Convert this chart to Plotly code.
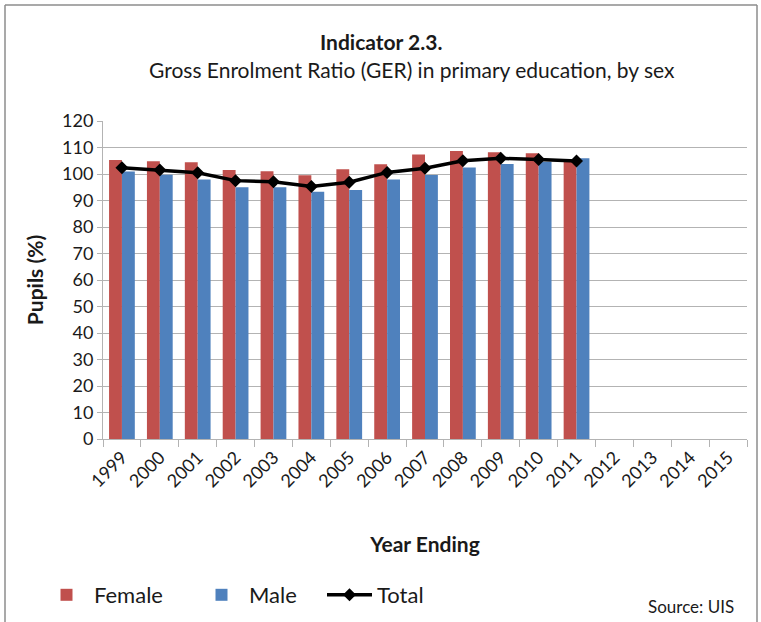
import plotly.graph_objects as go

years = [str(y) for y in range(1999, 2016)]
female = [105.3, 104.8, 104.4, 101.5, 101.0, 99.5, 101.8, 103.7, 107.4, 108.7, 108.2, 107.8, 105.3]
male = [100.9, 99.7, 97.9, 95.0, 95.0, 93.3, 94.0, 97.9, 99.6, 102.5, 103.8, 104.6, 105.9]
total = [102.4, 101.5, 100.5, 97.5, 97.1, 95.3, 96.9, 100.6, 102.2, 105.0, 105.9, 105.5, 104.9]

FONT = "Lato"
GRID = "#B3B3B3"
FIG_W, FIG_H = 761, 622

# plot area in pixels: x 103..747, y 121..439
PX_L, PX_R, PX_T, PX_B = 103, 747, 121, 439
W, H = PX_R - PX_L, PX_B - PX_T


def px(x):
    return (x - PX_L) / W


def py(y):
    return (PX_B - y) / H


fig = go.Figure()
fig.add_trace(go.Bar(x=years[:len(female)], y=female, name="Female", legend="legend",
                     marker=dict(color="#C0504D", line=dict(width=0))))
fig.add_trace(go.Bar(x=years[:len(male)], y=male, name="Male", legend="legend2",
                     marker=dict(color="#4F81BD", line=dict(width=0))))
fig.add_trace(go.Scatter(x=years[:len(total)], y=total, name="Total", mode="lines+markers",
                         legend="legend3",
                         line=dict(color="black", width=3.5),
                         marker=dict(symbol="diamond", size=10, color="black")))


def legend_at(x_px):
    return dict(x=px(x_px), y=py(595), xanchor="left", yanchor="middle",
                bgcolor="rgba(0,0,0,0)", font=dict(family=FONT, size=22), itemwidth=45)


fig.update_layout(
    width=FIG_W, height=FIG_H,
    margin=dict(l=PX_L, r=FIG_W - PX_R, t=PX_T, b=FIG_H - PX_B, autoexpand=False),
    paper_bgcolor="white", plot_bgcolor="white",
    font=dict(family=FONT, color="#1a1a1a", size=17),
    barmode="group", bargap=0.32, bargroupgap=0,
    showlegend=True,
    legend=legend_at(39),
    legend2=legend_at(194),
    legend3=legend_at(322),
    xaxis=dict(type="category", categoryorder="array", categoryarray=years,
               range=[-0.5, len(years) - 0.5], automargin=False,
               tickangle=-45, tickfont=dict(size=18),
               showline=True, linecolor=GRID, linewidth=1,
               ticks="outside", ticklen=7, tickcolor=GRID, tickson="boundaries",
               showgrid=False,
               title=dict(text="<b>Year Ending</b>", font=dict(size=21), standoff=46)),
    yaxis=dict(range=[0, 120], dtick=10, tickfont=dict(size=18), automargin=False,
               showgrid=True, gridcolor=GRID, gridwidth=1,
               showline=True, linecolor=GRID, linewidth=1,
               ticks="outside", ticklen=5, tickcolor=GRID,
               zeroline=False,
               title=dict(text="<b>Pupils (%)</b>", font=dict(size=21), standoff=12)),
    annotations=[
        dict(text="<b>Indicator 2.3.</b>", xref="paper", yref="paper",
             x=px(381), y=py(41), xanchor="center", yanchor="middle",
             showarrow=False, font=dict(size=21)),
        dict(text="Gross Enrolment Ratio (GER) in primary education, by sex",
             xref="paper", yref="paper",
             x=px(412), y=py(69), xanchor="center", yanchor="middle",
             showarrow=False, font=dict(size=21)),
        dict(text="Source: UIS", xref="paper", yref="paper",
             x=px(736), y=py(606), xanchor="right", yanchor="middle",
             showarrow=False, font=dict(size=17)),
    ],
    shapes=[
        dict(type="line", xref="paper", yref="paper",
             x0=px(5), x1=px(5), y0=py(5), y1=py(640),
             line=dict(color="#8C8C8C", width=1.5)),
        dict(type="line", xref="paper", yref="paper",
             x0=px(5), x1=px(757), y0=py(5), y1=py(5),
             line=dict(color="#8C8C8C", width=1.5)),
        dict(type="line", xref="paper", yref="paper",
             x0=px(757), x1=px(757), y0=py(5), y1=py(640),
             line=dict(color="#8C8C8C", width=1.5)),
    ],
)

fig.write_html("out.html")
